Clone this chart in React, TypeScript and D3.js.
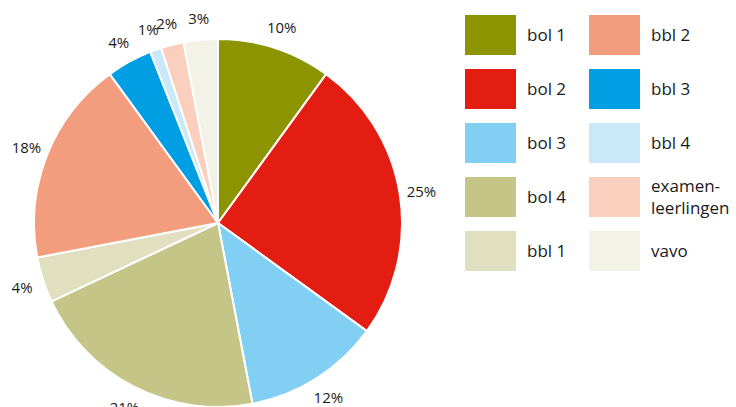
import React, { useEffect, useRef } from "react";
import * as d3 from "d3";

const categories = [
  "bol 1",
  "bol 2",
  "bol 3",
  "bol 4",
  "bbl 1",
  "bbl 2",
  "bbl 3",
  "bbl 4",
  "examen-\nleerlingen",
  "vavo",
];
const shares = [10, 25, 12, 21, 4, 18, 4, 1, 2, 3];
const colors = [
  "#8c9400",
  "#e31d12",
  "#82cff4",
  "#c5c588",
  "#e0dfc0",
  "#f29e7e",
  "#009fe3",
  "#c9e8f9",
  "#fbcfbd",
  "#f2f2e6",
];

export default function App() {
  const svgRef = useRef<SVGSVGElement>(null);

  useEffect(() => {
    const w = 736;
    const h = 407;
    const cx = 218;
    const cy = 223;
    const radius = 184;
    const labelRadius = 206;
    const font = "'Open Sans', 'Noto Sans', sans-serif";

    const svg = d3.select(svgRef.current);
    svg.selectAll("*").remove();
    svg.attr("width", w).attr("height", h);

    const pie = d3
      .pie<number>()
      .sort(null)
      .value((d) => d);
    const arcs = pie(shares);

    const arc = d3.arc<d3.PieArcDatum<number>>().innerRadius(0).outerRadius(radius);
    const labelArc = d3
      .arc<d3.PieArcDatum<number>>()
      .innerRadius(labelRadius)
      .outerRadius(labelRadius);

    const g = svg.append("g").attr("transform", `translate(${cx},${cy})`);

    g.selectAll("path")
      .data(arcs)
      .join("path")
      .attr("d", arc)
      .attr("fill", (d, i) => colors[i])
      .attr("stroke", "#fff")
      .attr("stroke-width", 2)
      .attr("stroke-linejoin", "round");

    g.selectAll("text")
      .data(arcs)
      .join("text")
      .attr("transform", (d) => `translate(${labelArc.centroid(d)})`)
      .attr("text-anchor", "middle")
      .attr("dominant-baseline", "central")
      .style("font-family", font)
      .style("font-size", "15px")
      .attr("fill", "#1a1a1a")
      .text((d) => `${d.data}%`);

    // legend, two columns of five
    const col = d3.scaleOrdinal<number, number>().domain([0, 1]).range([465, 589]);
    const row = d3.scaleLinear().domain([0, 4]).range([15, 231]);

    const items = svg
      .append("g")
      .selectAll("g")
      .data(categories)
      .join("g")
      .attr(
        "transform",
        (d, i) => `translate(${col(Math.floor(i / 5))},${row(i % 5)})`
      );

    items
      .append("rect")
      .attr("width", 51)
      .attr("height", 40)
      .attr("fill", (d, i) => colors[i]);

    items
      .append("text")
      .attr("x", 62)
      .style("font-family", font)
      .style("font-size", "17px")
      .attr("fill", "#1a1a1a")
      .each(function (d) {
        const lines = d.split("\n");
        const t = d3.select(this);
        lines.forEach((line, k) => {
          t.append("tspan")
            .attr("x", 62)
            .attr("y", 26 - (lines.length - 1) * 11 + k * 22)
            .text(line);
        });
      });
  }, []);

  return (
    <div style={{ position: "absolute", left: 0, top: 0 }}>
      <svg ref={svgRef}></svg>
    </div>
  );
}
